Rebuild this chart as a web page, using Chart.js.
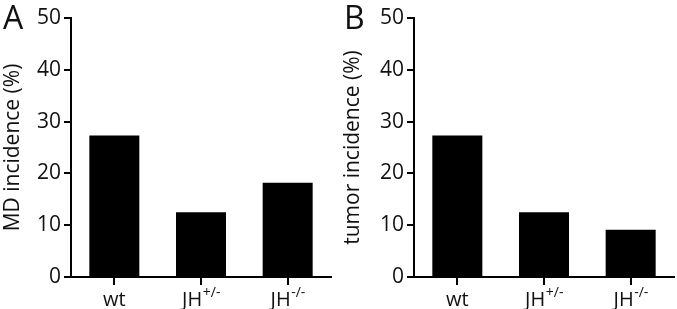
<!DOCTYPE html>
<html><head><meta charset="utf-8">
<script src="https://cdn.jsdelivr.net/npm/chart.js@4/dist/chart.umd.min.js"></script>
<style>
html,body{margin:0;padding:0;background:#fff;}
#wrap{position:relative;width:677px;height:309px;}
#ca{position:absolute;left:0;top:0;}
#cb{position:absolute;left:340px;top:0;}
</style></head>
<body><div id="wrap"><canvas id="ca" width="340" height="309"></canvas><canvas id="cb" width="337" height="309"></canvas></div>
<script>
const categories = ['wt', 'JH', 'JH'];
const superscripts = ['', '+/-', '-/-'];
const mdIncidence = [27.3, 12.5, 18.2];
const tumorIncidence = [27.3, 12.5, 9.1];
const yTicks = [0, 10, 20, 30, 40, 50];
const FONT = "'Open Sans', 'DejaVu Sans', sans-serif";

function labelPlugin(letter, letterX){
  return {
    id: 'lbl',
    afterDraw(chart){
      const ctx = chart.ctx, xs = chart.scales.x;
      ctx.save();
      ctx.fillStyle = '#111';
      ctx.textBaseline = 'alphabetic';
      categories.forEach((c, i) => {
        const cx = xs.getPixelForTick(i);
        ctx.font = "20px " + FONT;
        const w1 = ctx.measureText(c).width;
        ctx.font = "14px " + FONT;
        const w2 = superscripts[i] ? ctx.measureText(superscripts[i]).width : 0;
        let x0 = cx - (w1 + w2) / 2;
        ctx.font = "20px " + FONT;
        ctx.textAlign = 'left';
        ctx.fillText(c, x0, 306);
        if (superscripts[i]) {
          ctx.font = "14px " + FONT;
          ctx.fillText(superscripts[i], x0 + w1 + 0.5, 297);
        }
      });
      ctx.font = "32px " + FONT;
      ctx.fillText(letter, letterX, 29);
      ctx.restore();
    }
  };
}

function makeChart(id, data, title, letter, yWidth, padRight){
  return new Chart(document.getElementById(id), {
    type: 'bar',
    data: { labels: categories.map((c,i)=>c+superscripts[i]),
      datasets: [{ data: data, backgroundColor: '#000', borderWidth: 0,
        barPercentage: 0.577, categoryPercentage: 1 }] },
    options: {
      responsive: false, animation: false,
      layout: { padding: { top: 18, right: padRight, left: 0, bottom: 0 } },
      plugins: { legend: { display: false }, tooltip: { enabled: false } },
      scales: {
        x: {
          offset: true,
          grid: { display: true, offset: false, drawOnChartArea: false, drawTicks: true, tickLength: 8, color: '#000', lineWidth: 2 },
          border: { display: true, color: '#000', width: 2 },
          ticks: { callback: () => '', padding: 0 },
          afterFit(s){ s.height = 32; }
        },
        y: {
          min: 0, max: 50,
          afterBuildTicks(s){ s.ticks = yTicks.map(v => ({ value: v })); },
          grid: { display: true, drawOnChartArea: false, drawTicks: true, tickLength: 7, color: '#000', lineWidth: 2 },
          border: { display: true, color: '#000', width: 2 },
          ticks: { color: '#111', padding: 3, font: { family: FONT, size: 21 } },
          title: { display: true, text: title, color: '#111', padding: 0, font: { family: FONT, size: 21 } },
          afterFit(s){ s.width = yWidth; }
        }
      }
    },
    plugins: [labelPlugin(letter, letter === 'A' ? 3 : 4)]
  });
}
makeChart('ca', mdIncidence, 'MD incidence (%)', 'A', 71, 9);
makeChart('cb', tumorIncidence, 'tumor incidence (%)', 'B', 74, 3);
</script></body></html>
